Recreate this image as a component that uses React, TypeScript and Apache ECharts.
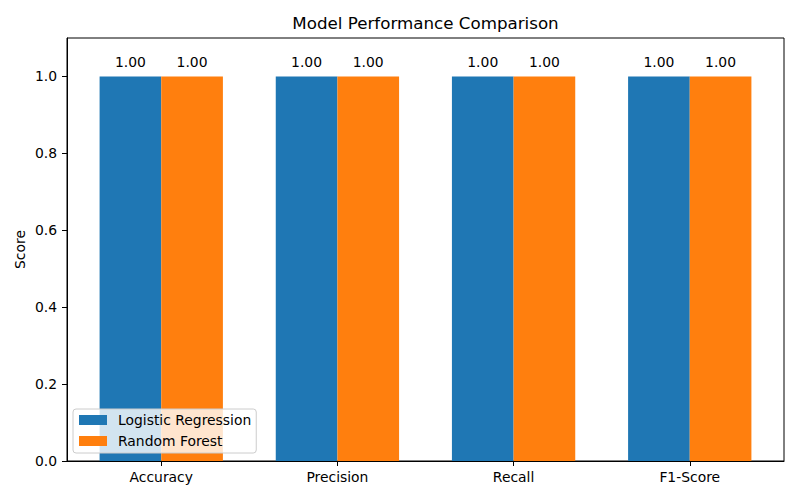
import React, { useEffect, useRef } from "react";
import * as echarts from "echarts";

const categories = ["Accuracy", "Precision", "Recall", "F1-Score"];
const logisticValues = [1.0, 1.0, 1.0, 1.0];
const forestValues = [1.0, 1.0, 1.0, 1.0];
const yTicks = [0, 0.2, 0.4, 0.6, 0.8, 1.0];
const seriesNames = ["Logistic Regression", "Random Forest"];

const FONT = "DejaVu Sans";
const GRID_LEFT = 67;
const GRID_RIGHT = 16;
const GRID_TOP = 38;
const GRID_BOTTOM = 39;
const X_MIN = -0.535;
const X_MAX = 3.535;
const BAR_W_UNITS = 0.35;

export default function App() {
  const ref = useRef<HTMLDivElement>(null);
  useEffect(() => {
    if (!ref.current) return;
    const chart = echarts.init(ref.current, null, { renderer: "svg" });
    const plotW = 800 - GRID_LEFT - GRID_RIGHT;
    const barWidth = (BAR_W_UNITS * plotW) / (X_MAX - X_MIN);
    const labelCfg = {
      show: true,
      position: "top",
      distance: 7,
      color: "#000",
      fontFamily: FONT,
      fontSize: 13.9,
      formatter: (p: any) => Number(p.value[1]).toFixed(2),
    };
    chart.setOption({
      animation: false,
      backgroundColor: "#fff",
      textStyle: { fontFamily: FONT },
      grid: {
        left: GRID_LEFT,
        right: GRID_RIGHT,
        top: GRID_TOP,
        bottom: GRID_BOTTOM,
        show: true,
        borderColor: "#000",
        borderWidth: 1,
        backgroundColor: "transparent",
      },
      graphic: [
        {
          type: "text",
          x: GRID_LEFT + plotW / 2,
          y: 23,
          style: {
            text: "Model Performance Comparison",
            font: `16.7px "${FONT}"`,
            fill: "#000",
            textAlign: "center",
            textVerticalAlign: "middle",
          },
        },
      ],
      legend: {
        data: seriesNames,
        orient: "vertical",
        left: 73,
        top: 409,
        icon: "rect",
        itemWidth: 28,
        itemHeight: 10,
        itemGap: 5,
        padding: [3, 5, 4, 6],
        backgroundColor: "rgba(255,255,255,0.8)",
        borderColor: "#cccccc",
        borderWidth: 1,
        borderRadius: 3,
        textStyle: {
          fontFamily: FONT,
          fontSize: 13.9,
          color: "#000",
          lineHeight: 16,
          padding: [0, 0, 0, 6],
        },
        z: 10,
      },
      xAxis: {
        type: "value",
        min: X_MIN,
        max: X_MAX,
        splitLine: { show: false },
        axisLine: { show: true, onZero: false, lineStyle: { color: "#000" } },
        axisTick: {
          show: true,
          length: 5,
          lineStyle: { color: "#000" },
          customValues: categories.map((_, i) => i),
        },
        axisLabel: {
          customValues: categories.map((_, i) => i),
          formatter: (v: number) => categories[Math.round(v)] ?? "",
          color: "#000",
          fontFamily: FONT,
          fontSize: 13.9,
          margin: 9,
        },
      },
      yAxis: {
        type: "value",
        min: 0,
        max: 1.1,
        name: "Score",
        nameLocation: "middle",
        nameRotate: 90,
        nameGap: 40,
        nameMoveOverlap: false,
        nameTextStyle: { fontFamily: FONT, fontSize: 13.9, color: "#000" },
        splitLine: { show: false },
        axisLine: { show: true, onZero: false, lineStyle: { color: "#000" } },
        axisTick: {
          show: true,
          length: 5,
          lineStyle: { color: "#000" },
          customValues: yTicks,
        },
        axisLabel: {
          customValues: yTicks,
          formatter: (v: number) => v.toFixed(1),
          color: "#000",
          fontFamily: FONT,
          fontSize: 13.9,
          margin: 10,
        },
      },
      series: [
        {
          name: seriesNames[0],
          type: "bar",
          barWidth,
          barGap: "-100%",
          itemStyle: { color: "#1f77b4" },
          label: labelCfg,
          data: logisticValues.map((v, i) => [i - BAR_W_UNITS / 2, v]),
        },
        {
          name: seriesNames[1],
          type: "bar",
          barWidth,
          barGap: "-100%",
          itemStyle: { color: "#ff7f0e" },
          label: labelCfg,
          data: forestValues.map((v, i) => [i + BAR_W_UNITS / 2, v]),
        },
      ],
    });
    return () => chart.dispose();
  }, []);
  return <div ref={ref} style={{ width: 800, height: 500, margin: -8 }} />;
}
